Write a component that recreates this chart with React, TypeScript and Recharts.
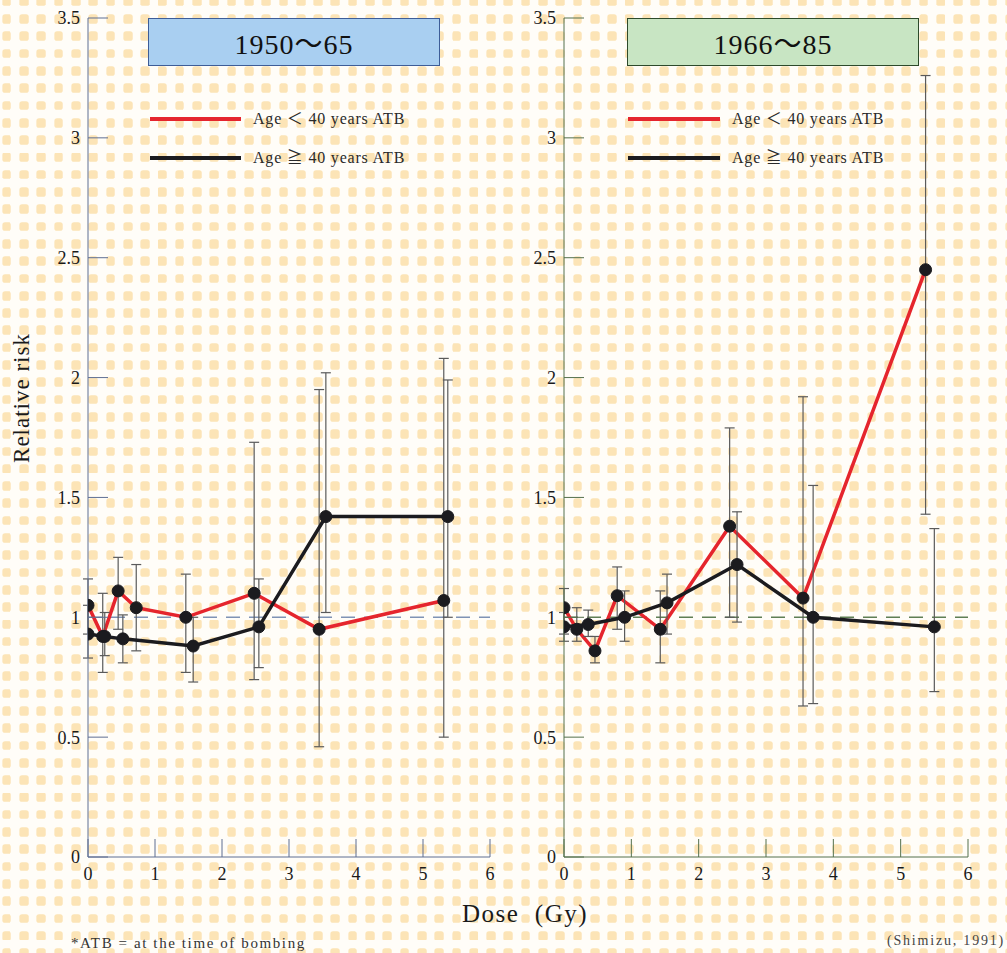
import { LineChart, Line, XAxis, YAxis, ErrorBar, ReferenceLine } from 'recharts'

const doseTicks = [0, 1, 2, 3, 4, 5, 6]
const rrTicks = [0, 0.5, 1, 1.5, 2, 2.5, 3, 3.5]

// 1950~65, age < 40 ATB
const earlyYoungDose = [0, 0.22, 0.45, 0.72, 1.46, 2.48, 3.45, 5.31]
const earlyYoungRR = [1.05, 0.92, 1.11, 1.04, 1.0, 1.1, 0.95, 1.07]
const earlyYoungLo = [0.93, 0.77, 0.95, 0.86, 0.77, 0.74, 0.46, 0.5]
const earlyYoungHi = [1.16, 1.1, 1.25, 1.22, 1.18, 1.73, 1.95, 2.08]
// 1950~65, age >= 40 ATB
const earlyOldDose = [0, 0.25, 0.52, 1.57, 2.55, 3.55, 5.37]
const earlyOldRR = [0.93, 0.92, 0.91, 0.88, 0.96, 1.42, 1.42]
const earlyOldLo = [0.83, 0.84, 0.81, 0.73, 0.79, 1.02, 1.0]
const earlyOldHi = [1.05, 1.02, 1.01, 1.0, 1.16, 2.02, 1.99]

// 1966~85, age < 40 ATB
const lateYoungDose = [0, 0.19, 0.46, 0.79, 1.43, 2.46, 3.55, 5.37]
const lateYoungRR = [1.04, 0.95, 0.86, 1.09, 0.95, 1.38, 1.08, 2.45]
const lateYoungLo = [0.93, 0.9, 0.81, 0.95, 0.81, 1.0, 0.63, 1.43]
const lateYoungHi = [1.12, 1.04, 0.92, 1.21, 1.11, 1.79, 1.92, 3.26]
// 1966~85, age >= 40 ATB
const lateOldDose = [0, 0.36, 0.9, 1.53, 2.57, 3.7, 5.5]
const lateOldRR = [0.96, 0.97, 1.0, 1.06, 1.22, 1.0, 0.96]
const lateOldLo = [0.9, 0.92, 0.9, 0.93, 0.98, 0.64, 0.69]
const lateOldHi = [1.02, 1.03, 1.11, 1.18, 1.44, 1.55, 1.37]

const serif = '"Liberation Serif", "Times New Roman", "Noto Sans CJK JP", serif'
const RED = '#e5252d'
const BLACK = '#1b1b1f'

const dots =
  "url(\"data:image/svg+xml;utf8,<svg xmlns='http://www.w3.org/2000/svg' width='17.3' height='17.3'><rect x='4.2' y='4.2' width='9' height='9' rx='2.5' fill='%23fce4b6'/></svg>\")"

function toPoints(dose: number[], rr: number[], lo: number[], hi: number[]) {
  return dose.map((d, i) => ({
    dose: d,
    rr: rr[i],
    err: [+(rr[i] - lo[i]).toFixed(3), +(hi[i] - rr[i]).toFixed(3)],
  }))
}

interface PanelProps {
  left: number
  width: number
  young: ReturnType<typeof toPoints>
  old: ReturnType<typeof toPoints>
  axisColor: string
  refColor: string
}

function Panel({ left, width, young, old, axisColor, refColor }: PanelProps) {
  const tick = { fill: '#1a1a1a', fontSize: 18, fontFamily: serif }
  return (
    <div style={{ position: 'absolute', left, top: 0 }}>
      <LineChart width={width} height={900} margin={{ top: 18, right: 20, left: 0, bottom: 0 }}>
        <XAxis
          type="number"
          dataKey="dose"
          domain={[0, 6]}
          ticks={doseTicks}
          allowDataOverflow
          height={43}
          stroke={axisColor}
          tickSize={-18}
          tickMargin={28}
          tick={tick}
        />
        <YAxis
          type="number"
          domain={[0, 3.5]}
          ticks={rrTicks}
          allowDataOverflow
          width={88}
          stroke={axisColor}
          tickSize={-20}
          tickMargin={28}
          tick={tick}
        />
        <ReferenceLine y={1} stroke={refColor} strokeWidth={1.5} strokeDasharray="14 9" />
        <Line
          data={young}
          dataKey="rr"
          stroke={RED}
          strokeWidth={3.5}
          dot={{ r: 6, fill: BLACK, stroke: BLACK, strokeWidth: 1 }}
          isAnimationActive={false}
        >
          <ErrorBar dataKey="err" width={5} stroke="#5a5a5a" strokeWidth={1.2} direction="y" />
        </Line>
        <Line
          data={old}
          dataKey="rr"
          stroke={BLACK}
          strokeWidth={3.5}
          dot={{ r: 6, fill: BLACK, stroke: BLACK, strokeWidth: 1 }}
          isAnimationActive={false}
        >
          <ErrorBar dataKey="err" width={5} stroke="#5a5a5a" strokeWidth={1.2} direction="y" />
        </Line>
      </LineChart>
    </div>
  )
}

function TitleBox({ left, text, fill, border }: { left: number; text: string; fill: string; border: string }) {
  return (
    <div
      style={{
        position: 'absolute', left, top: 18, width: 290, height: 46,
        background: fill, border: `1.5px solid ${border}`,
        display: 'flex', alignItems: 'center', justifyContent: 'center',
        fontFamily: serif, fontSize: 28, color: '#111', letterSpacing: 1,
      }}
    >
      {text}
    </div>
  )
}

function LegendBox({ left, textLeft }: { left: number; textLeft: number }) {
  const rows = [
    { label: 'Age ＜ 40 years ATB', color: RED, top: 119 },
    { label: 'Age ≧ 40 years ATB', color: BLACK, top: 158 },
  ]
  return (
    <>
      {rows.map((r) => (
        <div key={r.label}>
          <div style={{ position: 'absolute', left, top: r.top - 2, width: textLeft - left - 12, height: 4, background: r.color }} />
          <div
            style={{
              position: 'absolute', left: textLeft, top: r.top - 10, fontFamily: serif,
              fontSize: 16, letterSpacing: 0.8, color: '#2a2a2a', whiteSpace: 'nowrap', lineHeight: '20px',
            }}
          >
            {r.label}
          </div>
        </div>
      ))}
    </>
  )
}

export default function App() {
  const early1 = toPoints(earlyYoungDose, earlyYoungRR, earlyYoungLo, earlyYoungHi)
  const early2 = toPoints(earlyOldDose, earlyOldRR, earlyOldLo, earlyOldHi)
  const late1 = toPoints(lateYoungDose, lateYoungRR, lateYoungLo, lateYoungHi)
  const late2 = toPoints(lateOldDose, lateOldRR, lateOldLo, lateOldHi)
  return (
    <div
      style={{
        position: 'absolute', left: 0, top: 0, width: 1007, height: 953, overflow: 'hidden',
        backgroundColor: '#fffdf8', backgroundImage: dots, backgroundPosition: '-2px -7px',
      }}
    >
      <Panel left={0} width={510} young={early1} old={early2} axisColor="#5f6f92" refColor="#7f93b5" />
      <Panel left={476} width={512} young={late1} old={late2} axisColor="#55704c" refColor="#5f7f55" />

      <TitleBox left={148} text="1950～65" fill="#a9cff1" border="#3d5d98" />
      <TitleBox left={627} text="1966～85" fill="#c8e5c3" border="#2d4a2b" />
      <LegendBox left={150} textLeft={253} />
      <LegendBox left={628} textLeft={732} />

      <div
        style={{
          position: 'absolute', left: 22 - 80, top: 385, width: 160, textAlign: 'center',
          transform: 'rotate(-90deg)', fontFamily: serif, fontSize: 23, letterSpacing: 1, color: '#1a1a1a',
        }}
      >
        Relative risk
      </div>
      <div
        style={{
          position: 'absolute', left: 425, top: 900, width: 200, textAlign: 'center',
          fontFamily: serif, fontSize: 25, letterSpacing: 1.5, color: '#1a1a1a', whiteSpace: 'pre',
        }}
      >
        {'Dose  (Gy)'}
      </div>
      <div style={{ position: 'absolute', left: 71, top: 935, fontFamily: serif, fontSize: 15, letterSpacing: 1.6, color: '#333', whiteSpace: 'nowrap' }}>
        *ATB = at the time of bombing
      </div>
      <div style={{ position: 'absolute', right: 2, top: 933, fontFamily: serif, fontSize: 14, letterSpacing: 1.8, color: '#444', whiteSpace: 'nowrap' }}>
        (Shimizu, 1991)
      </div>
    </div>
  )
}
